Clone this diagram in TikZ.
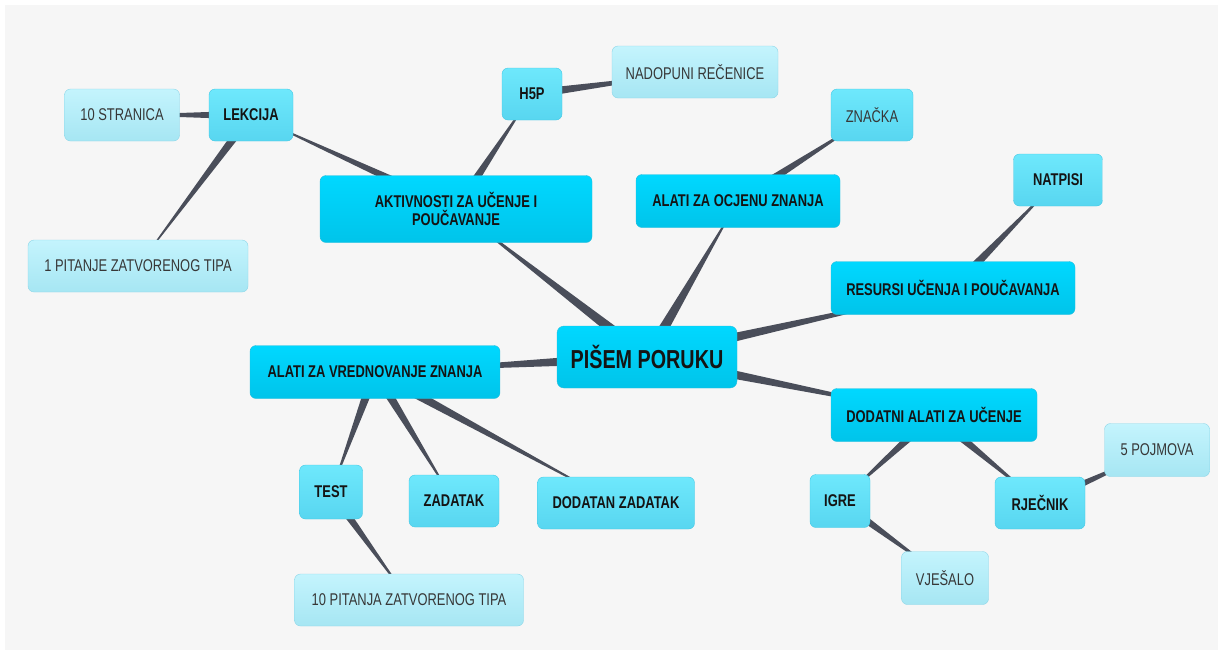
\documentclass[tikz,border=0pt]{standalone}
\usepackage{fontspec}
\setmainfont{Liberation Sans}[FakeStretch=0.76]
\usepackage{tikz}
\usetikzlibrary{calc,backgrounds}
\definecolor{mmback}{RGB}{246,246,246}
\definecolor{mmlink}{RGB}{74,78,90}
\definecolor{mmtopA}{RGB}{0,216,255}
\definecolor{mmtopB}{RGB}{0,196,234}
\definecolor{mmtopline}{RGB}{40,190,220}
\definecolor{mmsubA}{RGB}{110,232,252}
\definecolor{mmsubB}{RGB}{88,214,240}
\definecolor{mmsubline}{RGB}{70,200,228}
\definecolor{mmleafA}{RGB}{196,244,253}
\definecolor{mmleafB}{RGB}{166,230,243}
\definecolor{mmleafline}{RGB}{140,214,232}
\definecolor{mmtext}{RGB}{20,20,20}
\definecolor{mmgrey}{RGB}{55,55,55}
\tikzstyle{root} = [rectangle, rounded corners=7pt, minimum width=180pt, minimum height=62pt, draw=mmtopline, top color=mmtopA, bottom color=mmtopB, text=mmtext, font=\fontsize{26}{29}\selectfont\bfseries]
\tikzstyle{topic} = [rectangle, rounded corners=6pt, minimum height=53pt, draw=mmtopline, top color=mmtopA, bottom color=mmtopB, text=mmtext, align=center, font=\fontsize{17}{18}\selectfont\bfseries]
\tikzstyle{subtopic} = [rectangle, rounded corners=6pt, minimum height=52pt, draw=mmsubline, top color=mmsubA, bottom color=mmsubB, text=mmtext, font=\fontsize{17}{18}\selectfont\bfseries]
\tikzstyle{leaf} = [rectangle, rounded corners=6pt, minimum height=52pt, draw=mmleafline, top color=mmleafA, bottom color=mmleafB, text=mmgrey, font=\fontsize{17}{18}\selectfont]
\tikzstyle{link} = [fill=mmlink]
% tapered connector: wide at the parent, pointed at the child
\newcommand{\mmlink}[3][5pt]{\fill[link] ($(#2.center)!#1!90:(#3.center)$) -- ($(#2.center)!#1!-90:(#3.center)$) -- (#3.center) -- cycle;}

\begin{document}
\begin{tikzpicture}[x=1pt, y=-1pt]
\useasboundingbox (0,0) rectangle (1223,654);

% Centre
\node[root] (poruka) at (647,357) {PIŠEM PORUKU};

% Main branches
\node[topic, minimum width=272pt, minimum height=67pt] (aktivnosti) at (456,209) {AKTIVNOSTI ZA UČENJE I\\POUČAVANJE};
\node[topic, minimum width=204pt] (ocjena) at (738,201) {ALATI ZA OCJENU ZNANJA};
\node[topic, minimum width=244pt] (resursi) at (953,288) {RESURSI UČENJA I POUČAVANJA};
\node[topic, minimum width=206pt] (dodatni) at (934,415) {DODATNI ALATI ZA UČENJE};
\node[topic, minimum width=250pt] (vrednovanje) at (375,372) {ALATI ZA VREDNOVANJE ZNANJA};

% Aktivnosti
\node[subtopic, minimum width=84pt] (lekcija) at (251,115) {LEKCIJA};
\node[leaf, minimum width=115pt] (stranica) at (122,115) {10 STRANICA};
\node[leaf, minimum width=220pt] (pitanje) at (138,266) {1 PITANJE ZATVORENOG TIPA};
\node[subtopic, minimum width=60pt] (hfivep) at (532,94) {H5P};
\node[leaf, minimum width=166pt] (nadopuni) at (695,72) {NADOPUNI REČENICE};

% Ocjena, resursi
\node[subtopic, minimum width=82pt, font=\fontsize{17}{18}\selectfont, text=mmgrey] (znacka) at (872,115) {ZNAČKA};
\node[subtopic, minimum width=89pt] (natpisi) at (1058,180) {NATPISI};

% Dodatni alati
\node[subtopic, minimum width=60pt, minimum height=53pt] (igre) at (840,501) {IGRE};
\node[leaf, minimum width=87pt, minimum height=53pt] (vjesalo) at (945,578) {VJEŠALO};
\node[subtopic, minimum width=90pt] (rjecnik) at (1040,503) {RJEČNIK};
\node[leaf, minimum width=105pt, minimum height=53pt] (pojmova) at (1157,450) {5 POJMOVA};

% Vrednovanje
\node[subtopic, minimum width=63pt, minimum height=54pt] (test) at (331,492) {TEST};
\node[subtopic, minimum width=90pt] (zadatak) at (454,501) {ZADATAK};
\node[subtopic, minimum width=157pt] (dodatan) at (616,503) {DODATAN ZADATAK};
\node[leaf, minimum width=229pt] (pitanja) at (409,600) {10 PITANJA ZATVORENOG TIPA};

\begin{pgfonlayer}{background}
\fill[white] (0,0) rectangle (1223,654);
\fill[mmback] (5,5) rectangle (1218,650);
% Connectors
\foreach \child in {aktivnosti,ocjena,resursi,dodatni,vrednovanje}
  \mmlink[6pt]{poruka}{\child};
\mmlink{aktivnosti}{lekcija}
\mmlink{aktivnosti}{hfivep}
\mmlink[4.5pt]{lekcija}{stranica}
\mmlink[4.5pt]{lekcija}{pitanje}
\mmlink[4.5pt]{hfivep}{nadopuni}
\mmlink{ocjena}{znacka}
\mmlink{resursi}{natpisi}
\mmlink{dodatni}{igre}
\mmlink{dodatni}{rjecnik}
\mmlink[4.5pt]{igre}{vjesalo}
\mmlink[4.5pt]{rjecnik}{pojmova}
\foreach \child in {test,zadatak,dodatan}
  \mmlink{vrednovanje}{\child};
\mmlink[4.5pt]{test}{pitanja}
\end{pgfonlayer}
\end{tikzpicture}
\end{document}
